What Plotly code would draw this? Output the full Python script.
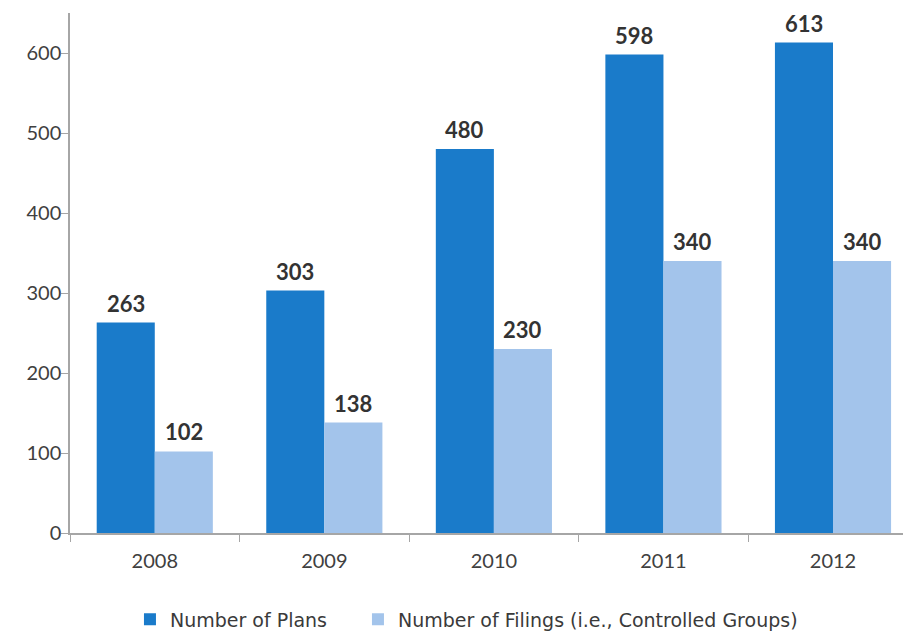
import plotly.graph_objects as go

years = ["2008", "2009", "2010", "2011", "2012"]
plans = [263, 303, 480, 598, 613]
filings = [102, 138, 230, 340, 340]
series_names = ["Number of Plans", "Number of Filings (i.e., Controlled Groups)"]
colors = ["#1a7bca", "#a3c4eb"]
legend_ids = ["legend", "legend2"]

fig = go.Figure()
for name, vals, col, lg in zip(series_names, [plans, filings], colors, legend_ids):
    fig.add_trace(go.Bar(x=years, y=vals, name=name, legend=lg,
                         marker=dict(color=col, line=dict(width=0))))

bar_px = 58
for vals, shift in [(plans, -bar_px / 2), (filings, bar_px / 2)]:
    for i, v in enumerate(vals):
        fig.add_annotation(x=i, y=v, text=str(v), showarrow=False, xshift=shift,
                           xref="x", yref="y",
                           yanchor="bottom", yshift=4,
                           font=dict(family="Lato", size=22, color="#333333", weight="bold"))

leg_font = dict(family="DejaVu Sans", size=19, color="#3a3a3a")
fig.update_layout(
    width=903, height=624,
    margin=dict(l=62, r=0, t=5, b=99, autoexpand=False),
    paper_bgcolor="white", plot_bgcolor="white",
    barmode="group", bargap=0.315, bargroupgap=0,
    font=dict(family="Lato", color="#404040"),
    showlegend=True,
    legend=dict(orientation="h", x=0.0713, xanchor="left", y=-0.166, yanchor="middle",
                font=leg_font, itemwidth=30, bgcolor="rgba(0,0,0,0)"),
    legend2=dict(orientation="h", x=0.3424, xanchor="left", y=-0.166, yanchor="middle",
                 font=leg_font, itemwidth=30, bgcolor="rgba(0,0,0,0)"),
)
fig.update_xaxes(type="category", range=[-0.5, 4.46], showline=True, linecolor="#a6a6a6", linewidth=1.5,
                 ticks="outside", tickson="boundaries", ticklen=7, tickcolor="#a6a6a6",
                 ticklabelstandoff=9,
                 tickfont=dict(size=20, color="#404040"), showgrid=False, automargin=False)
fig.update_yaxes(range=[0, 650], dtick=100, showline=True, linecolor="#a6a6a6", linewidth=1.5,
                 ticks="outside", ticklen=7, tickcolor="#a6a6a6", showgrid=False, zeroline=False,
                 ticklabelstandoff=-4,
                 tickfont=dict(size=20, color="#404040"), automargin=False)

fig.write_html("out.html")
